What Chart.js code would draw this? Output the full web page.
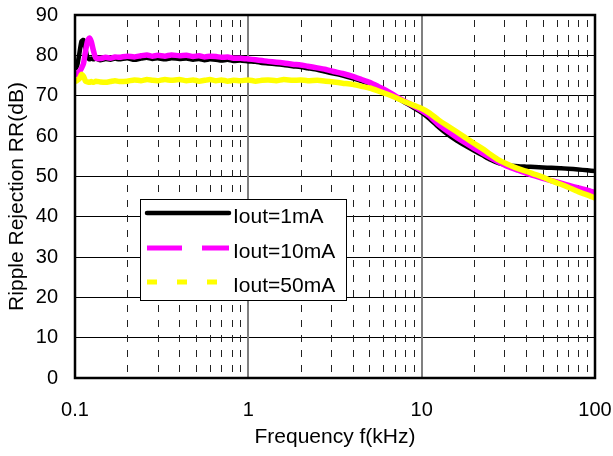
<!DOCTYPE html>
<html><head><meta charset="utf-8">
<script src="https://cdn.jsdelivr.net/npm/chart.js@4/dist/chart.umd.min.js"></script>
<style>html,body{margin:0;padding:0;background:#fff}</style>
</head><body>
<canvas id="c" width="613" height="456"></canvas>
<script>
const freqKHz = [0.1,0.103,0.106,0.109,0.112,0.115,0.118,0.121,0.124,0.128,0.132,0.14,0.15,0.16,0.17,0.18,0.2,0.22,0.24,0.26,0.28,0.3,0.33,0.36,0.4,0.44,0.48,0.52,0.56,0.6,0.65,0.7,0.76,0.82,0.9,1.0,1.1,1.2,1.3,1.45,1.6,1.8,2.0,2.2,2.5,2.8,3.1,3.5,4.0,4.5,5.0,5.6,6.3,7.0,8.0,9.0,10,11,12.5,14,16,18,20,22.5,25,28,32,36,40,45,50,56,63,70,80,90,100];
const rr1mA = [76.5,77.5,80.5,83.5,83.8,81.5,79.5,79.0,79.2,79.0,79.2,78.8,79.1,78.9,79.2,79.0,79.3,78.9,79.2,79.4,79.1,79.3,79.0,79.3,79.1,79.2,78.9,79.1,78.8,79.0,78.9,78.7,78.9,78.6,78.7,78.5,78.4,78.1,78.0,77.8,77.6,77.3,77.1,76.8,76.4,75.9,75.5,75.0,74.3,73.6,72.9,72.0,70.9,69.8,68.3,67.0,65.8,64.4,62.2,60.5,58.8,57.5,56.4,55.2,54.1,53.2,52.7,52.5,52.4,52.3,52.2,52.1,52.0,51.9,51.7,51.5,51.3];
const rr10mA = [75.0,75.5,76.0,76.8,78.0,81.0,83.5,84.3,83.5,81.0,79.3,79.2,79.5,79.3,79.6,79.5,79.8,79.6,79.9,80.1,79.8,80.0,79.8,80.1,79.9,80.0,79.7,79.9,79.6,79.8,79.7,79.5,79.6,79.3,79.3,79.1,78.9,78.7,78.5,78.3,78.1,77.8,77.6,77.3,76.9,76.5,76.0,75.5,74.8,74.0,73.3,72.3,71.2,70.0,68.6,67.4,66.3,65.1,62.9,61.3,59.6,58.2,57.0,55.7,54.6,53.5,52.3,51.5,50.8,50.1,49.5,48.9,48.4,47.8,47.1,46.6,46.0];
const rr50mA = [73.5,73.8,74.2,75.3,74.8,73.6,73.4,73.3,73.5,73.3,73.6,73.4,73.3,73.5,73.7,73.5,73.6,73.9,73.7,74.0,73.8,73.7,74.0,73.8,74.0,73.7,73.9,73.6,73.8,74.0,73.7,73.9,73.6,73.8,73.7,73.9,73.6,73.8,73.9,73.7,74.0,73.8,73.9,73.7,73.8,73.6,73.4,73.1,72.8,72.3,71.9,71.2,70.4,69.6,68.5,67.6,66.8,65.8,64.0,62.6,61.0,59.5,58.2,56.8,55.4,54.0,52.8,51.9,51.3,50.5,49.8,48.9,48.1,47.3,46.2,45.4,44.6];
const seriesNames = ['Iout=1mA','Iout=10mA','Iout=50mA'];
const seriesColors = ['#000000','#FF00FF','#FFFF00'];
const xTickValues = [0.1,1,10,100];
const xTickLabels = ['0.1','1','10','100'];
const xMinorMultipliers = [2,3,4,5,6,7,8,9];
const yTickValues = [0,10,20,30,40,50,60,70,80,90];
const xTitle = 'Frequency f(kHz)';
const yTitle = 'Ripple Rejection RR(dB)';

const FONT = "'Liberation Sans', Arial, sans-serif";
const toPts = arr => freqKHz.map((f,i)=>({x:f,y:arr[i]}));

const gridPlugin = {
  id:'vgrid',
  beforeDatasetsDraw(chart){
    const {ctx, chartArea:a, scales:{x}} = chart;
    ctx.save();
    ctx.strokeStyle = '#222';
    ctx.lineWidth = 1;
    ctx.setLineDash([7,8]);
    ctx.lineDashOffset = 10;
    for (let d=0; d<xTickValues.length-1; d++) {
      xMinorMultipliers.forEach(m=>{
        const px = Math.round(x.getPixelForValue(xTickValues[d]*m))+0.5;
        ctx.beginPath(); ctx.moveTo(px,a.top); ctx.lineTo(px,a.bottom); ctx.stroke();
      });
    }
    ctx.setLineDash([]);
    ctx.strokeStyle = '#808080';
    ctx.lineWidth = 2;
    xTickValues.slice(1,-1).forEach(v=>{
      const px = Math.round(x.getPixelForValue(v));
      ctx.beginPath(); ctx.moveTo(px,a.top); ctx.lineTo(px,a.bottom); ctx.stroke();
    });
    ctx.restore();
  },
  afterDraw(chart){
    const {ctx, chartArea:a} = chart;
    ctx.save();
    const bx=140.5, by=199.5, bw=206, bh=101;
    ctx.fillStyle='#fff'; ctx.fillRect(bx,by,bw,bh);
    ctx.strokeStyle='#000'; ctx.lineWidth=1; ctx.strokeRect(bx,by,bw,bh);
    const rows=[213,248,282];
    const dashes=[[],[35,20],[10,20]];
    const widths=[4.5,5,5];
    seriesNames.forEach((n,i)=>{
      ctx.strokeStyle=seriesColors[i]; ctx.lineWidth=widths[i];
      ctx.setLineDash(dashes[i]); ctx.lineCap = i===0?'round':'butt';
      ctx.beginPath(); ctx.moveTo(147,rows[i]); ctx.lineTo(229,rows[i]); ctx.stroke();
      ctx.setLineDash([]);
      ctx.fillStyle='#000'; ctx.font='21px '+FONT; ctx.textBaseline='alphabetic'; ctx.textAlign='left';
      ctx.fillText(n,233,rows[i]+10);
    });
    ctx.strokeStyle='#000'; ctx.lineWidth=2.5;
    ctx.strokeRect(a.left,a.top,a.right-a.left,a.bottom-a.top);
    ctx.restore();
  }
};

new Chart(document.getElementById('c'), {
  type:'line',
  data:{datasets:[
    {label:seriesNames[0], data:toPts(rr1mA), borderColor:seriesColors[0], borderWidth:4.5, pointRadius:0, tension:0.2, order:3},
    {label:seriesNames[1], data:toPts(rr10mA), borderColor:seriesColors[1], borderWidth:5.5, pointRadius:0, tension:0.2, order:2},
    {label:seriesNames[2], data:toPts(rr50mA), borderColor:seriesColors[2], borderWidth:5.5, pointRadius:0, tension:0.2, order:1}
  ]},
  options:{
    responsive:false, animation:false, devicePixelRatio:1,
    layout:{padding:{top:15,right:0,bottom:0,left:0}},
    plugins:{legend:{display:false}, tooltip:{enabled:false}},
    scales:{
      x:{type:'logarithmic', min:0.1, max:100,
        afterBuildTicks(s){ s.ticks = xTickValues.map(v=>({value:v})); },
        afterFit(s){ s.height = 78; s.paddingRight = 18; s.paddingLeft = 0; },
        ticks:{autoSkip:false, maxRotation:0, padding:20, color:'#000', font:{family:FONT,size:20},
          callback(v){ const i=xTickValues.indexOf(v); return i>=0?xTickLabels[i]:''; }},
        grid:{display:false, drawTicks:false},
        border:{display:false},
        title:{display:true, text:xTitle, color:'#000', font:{family:FONT,size:21}, padding:{top:0,bottom:6}}
      },
      y:{min:0, max:90,
        afterBuildTicks(s){ s.ticks = yTickValues.map(v=>({value:v})); },
        afterFit(s){ s.width = 75; s.paddingTop = 0; s.paddingBottom = 0; },
        ticks:{padding:17, color:'#000', font:{family:FONT,size:20}},
        grid:{color:'#000', lineWidth:1, drawTicks:false},
        border:{display:false},
        title:{display:true, text:yTitle, color:'#000', font:{family:FONT,size:21}, padding:{top:5,bottom:0}}
      }
    }
  },
  plugins:[gridPlugin]
});
</script>
</body></html>
